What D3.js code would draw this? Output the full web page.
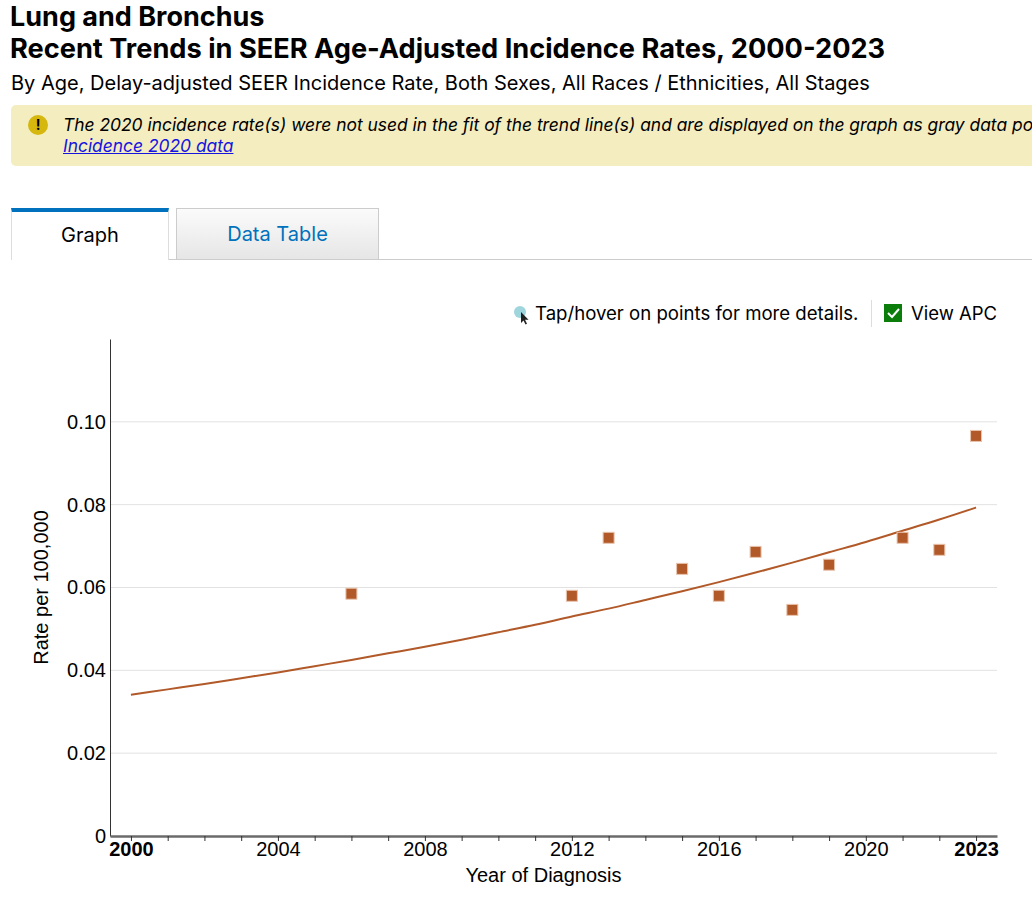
<!DOCTYPE html>
<html>
<head>
<meta charset="utf-8">
<script src="https://cdn.jsdelivr.net/npm/d3@7"></script>
<style>
  html, body { margin:0; padding:0; width:1032px; height:907px; overflow:hidden; background:#fff; }
  body { position:relative; font-family: Inter, "Noto Sans", sans-serif; color:#000; }
  .abs { position:absolute; white-space:nowrap; }
  #t1 { left:10px; top:1px; font-size:27px; font-weight:700; line-height:32px; }
  #t2 { left:10px; top:33px; font-size:27.2px; font-weight:700; line-height:32px; }
  #sub { left:11px; top:70px; font-size:20px; line-height:26px; }
  #notice { left:11px; top:105px; width:1100px; height:61px; background:#f3edc0; border-radius:5px; }
  #notice .ic { position:absolute; left:17px; top:10px; width:20px; height:20px; border-radius:50%; background:#d5b70d; color:#000; font-weight:700; font-size:14px; line-height:20px; text-align:center; }
  #notice .tx { position:absolute; left:52px; top:9px; font-size:17.4px; font-style:italic; line-height:21px; white-space:nowrap; }
  #notice a { color:#1515e0; text-decoration:underline; }
  #tabGraph { left:11px; top:208px; width:156px; height:48px; border-top:4px solid #0071bc; border-left:1px solid #ddd; border-right:1px solid #ddd; background:#fff; text-align:center; font-size:20px; line-height:46px; }
  #tabData { left:176px; top:208px; width:201px; height:50px; border:1px solid #ccc; border-bottom:none; background:linear-gradient(#fbfbfb,#e6e6e6); text-align:center; font-size:20px; line-height:50px; color:#0071bc; }
  #tabLine { left:169px; top:259px; width:863px; height:1px; background:#ccc; }
  #tap { left:535px; top:301px; font-size:18.6px; line-height:24px; }
  #sep { left:871px; top:300px; width:1px; height:27px; background:#ddd; }
  #chk { left:884px; top:304px; width:18px; height:18px; background:#0a7d0a; }
  #apc { left:911px; top:301px; font-size:18.5px; line-height:24px; }
  svg { position:absolute; left:0; top:0; }
</style>
</head>
<body>
<div class="abs" id="t1">Lung and Bronchus</div>
<div class="abs" id="t2">Recent Trends in SEER Age-Adjusted Incidence Rates, 2000-2023</div>
<div class="abs" id="sub">By Age, Delay-adjusted SEER Incidence Rate, Both Sexes, All Races / Ethnicities, All Stages</div>
<div class="abs" id="notice">
  <div class="ic">!</div>
  <div class="tx">The 2020 incidence rate(s) were not used in the fit of the trend line(s) and are displayed on the graph as gray data points.<br><a href="#">Incidence 2020 data</a></div>
</div>
<div class="abs" id="tabGraph">Graph</div>
<div class="abs" id="tabData">Data Table</div>
<div class="abs" id="tabLine"></div>
<div class="abs" id="tap">Tap/hover on points for more details.</div>
<div class="abs" id="sep"></div>
<div class="abs" id="chk"></div>
<div class="abs" id="apc">View APC</div>
<svg id="chart" width="1032" height="907"></svg>
<script>
// Observed rates (year, rate per 100,000)
const obsYears = [2006, 2012, 2013, 2015, 2016, 2017, 2018, 2019, 2021, 2022, 2023];
const obsRates = [0.0585, 0.0580, 0.0720, 0.0645, 0.0580, 0.0686, 0.0546, 0.0655, 0.0720, 0.0691, 0.0966];
// Fitted trend (APC) values
const trendYears = [2000,2001,2002,2003,2004,2005,2006,2007,2008,2009,2010,2011,2012,2013,2014,2015,2016,2017,2018,2019,2020,2021,2022,2023];
const trendRates = [0.0341,0.0354,0.0367,0.0381,0.0395,0.0410,0.0425,0.0441,0.0457,0.0474,0.0492,0.0510,0.0530,0.0549,0.0570,0.0591,0.0613,0.0636,0.0660,0.0685,0.0710,0.0737,0.0764,0.0793];
const xTickYears = [2000, 2004, 2008, 2012, 2016, 2020, 2023];
const yTicks = [0, 0.02, 0.04, 0.06, 0.08, 0.10];

const svg = d3.select("#chart");
const pL = 110, pR = 997, pT = 339, pB = 836;
const x = d3.scaleLinear().domain([1999.43, 2023.57]).range([pL, pR]);
const y = d3.scaleLinear().domain([0, 0.12]).range([pB, pT]);
const axisFont = '"Liberation Sans", Arial, sans-serif';

// gridlines
svg.append("g").selectAll("line").data(yTicks.filter(d => d > 0)).join("line")
  .attr("x1", pL).attr("x2", pR)
  .attr("y1", d => y(d)).attr("y2", d => y(d))
  .attr("stroke", "#e2e2e2").attr("stroke-width", 1);

// y axis
const yAxis = svg.append("g").attr("transform", `translate(${pL},0)`)
  .call(d3.axisLeft(y).tickValues(yTicks).tickSize(0).tickPadding(4)
    .tickFormat(d => d === 0 ? "0" : d3.format(".2f")(d)));
yAxis.select(".domain").attr("stroke", "#333").attr("stroke-width", 1);
yAxis.selectAll("text").attr("font-family", axisFont).attr("font-size", 20).attr("fill", "#000");

// x axis: minor ticks every year
const allYears = d3.range(2000, 2024);
const xAxis = svg.append("g").attr("transform", `translate(0,${pB})`)
  .call(d3.axisBottom(x).tickValues(allYears).tickSize(5).tickSizeOuter(0)
    .tickFormat(d => xTickYears.includes(d) ? String(d) : ""));
xAxis.select(".domain").attr("stroke", "#6b6b6b").attr("stroke-width", 2.5);
xAxis.selectAll(".tick line").attr("stroke", "#333");
xAxis.selectAll("text").attr("font-family", axisFont).attr("font-size", 20).attr("fill", "#000")
  .attr("dy", "0.6em")
  .attr("font-weight", d => (d === 2000 || d === 2023) ? "bold" : "normal");

// axis titles
svg.append("text").attr("x", (pL + pR) / 2 - 10).attr("y", 882)
  .attr("text-anchor", "middle").attr("font-family", axisFont).attr("font-size", 20)
  .text("Year of Diagnosis");
svg.append("text").attr("transform", `translate(48,${(pT + pB) / 2}) rotate(-90)`)
  .attr("text-anchor", "middle").attr("font-family", axisFont).attr("font-size", 20)
  .text("Rate per 100,000");

// trend line
const line = d3.line().x((d, i) => x(trendYears[i])).y(d => y(d)).curve(d3.curveMonotoneX);
svg.append("path").datum(trendRates).attr("d", line)
  .attr("fill", "none").attr("stroke", "#b15928").attr("stroke-width", 2);

// points
const ms = 11;
svg.append("g").selectAll("rect").data(obsRates).join("rect")
  .attr("x", (d, i) => x(obsYears[i]) - ms / 2)
  .attr("y", d => y(d) - ms / 2)
  .attr("width", ms).attr("height", ms)
  .attr("fill", "#b15928").attr("stroke", "#e9c4ad").attr("stroke-width", 1);

// tap icon
svg.append("circle").attr("cx", 520).attr("cy", 312).attr("r", 6).attr("fill", "#9fd5dc");
svg.append("path").attr("d", "M521,312 l0,11 l2.5,-2.5 l2,4 l1.5,-0.8 l-2,-4 l3.5,0 z").attr("fill", "#222");
// check mark
svg.append("path").attr("d", "M888,313 l4,4 l7,-8").attr("fill", "none").attr("stroke", "#fff").attr("stroke-width", 2);
</script>
</body>
</html>
